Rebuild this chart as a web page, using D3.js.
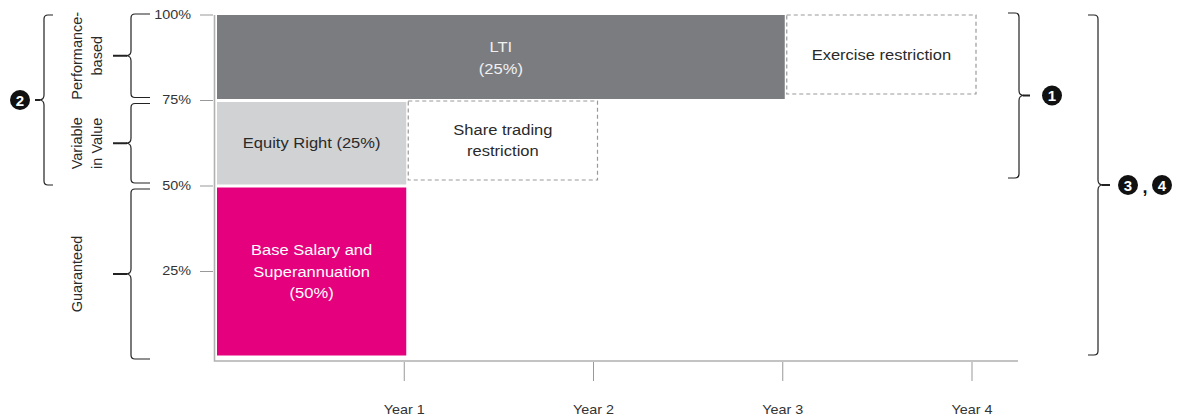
<!DOCTYPE html>
<html>
<head>
<meta charset="utf-8">
<script src="https://cdn.jsdelivr.net/npm/d3@7"></script>
<style>
  body { margin: 0; background: #fff; }
  svg { display: block; font-family: "Liberation Sans", Arial, sans-serif; }
</style>
</head>
<body>
<svg class="board" width="1177" height="419"></svg>
<script>
// pay components (share of total, vesting year)
var barLabels = [["Base Salary and", "Superannuation", "(50%)"], ["Equity Right (25%)"], ["LTI", "(25%)"]];
var barLow = [0, 0.5, 0.75];
var barHigh = [0.5, 0.75, 1];
var barYears = [1, 1, 3];
var barColors = ["#e5007e", "#d1d2d4", "#7b7c80"];
var barText = ["#ffffff", "#2a2a2a", "#f0f0f0"];

// restriction periods after vesting
var restrictLabels = [["Share trading", "restriction"], ["Exercise restriction"]];
var restrictFrom = [1, 3];
var restrictTo = [2, 4];
var restrictLow = [0.5, 0.75];
var restrictHigh = [0.75, 1];

var yTicks = [0.25, 0.5, 0.75, 1];
var xTicks = [1, 2, 3, 4];
var xTickLabels = ["Year 1", "Year 2", "Year 3", "Year 4"];

// left side groupings
var groupLabels = [["Guaranteed"], ["Variable", "in Value"], ["Performance-", "based"]];
var groupLow = [0, 0.5, 0.75];
var groupHigh = [0.5, 0.75, 1];

var board = d3.select('.board');
var x = d3.scaleLinear().domain([0, 4]).range([216, 973]);
var y = d3.scaleLinear().domain([0, 1]).range([357, 15]);

// text is a bit wider than the font: stretch it sideways
function label(parent, cx, cy, lines, size, fill, lineH, sx, anchor) {
  var t = parent.append('text')
    .attr('transform', 'translate(' + cx + ',' + cy + ') scale(' + sx + ',1)')
    .attr('text-anchor', anchor || 'middle')
    .attr('font-size', size).attr('fill', fill);
  t.selectAll('tspan').data(lines).enter().append('tspan')
    .attr('x', 0)
    .attr('y', (l, j) => size * 0.36 + (j - (lines.length - 1) / 2) * lineH)
    .text(l => l);
  return t;
}

// frame
board.append('path')
  .attr('d', 'M214.5,' + y(1) + 'V361H1018')
  .attr('fill', 'none').attr('stroke', '#b0b0b0').attr('stroke-width', 1.6);

// y ticks
var yt = board.append('g').selectAll('g').data(yTicks).enter().append('g');
yt.append('line')
  .attr('x1', 200).attr('x2', 213)
  .attr('y1', d => y(d)).attr('y2', d => y(d))
  .attr('stroke', '#999');
yt.each(function (d) {
  label(d3.select(this), 191, y(d) - 0.5, [d3.format('.0%')(d)], 12, '#333', 0, 1.2, 'end');
});

// x ticks
var xt = board.append('g').selectAll('g').data(xTicks).enter().append('g');
xt.append('line')
  .attr('x1', d => x(d) - 1).attr('x2', d => x(d) - 1)
  .attr('y1', 362).attr('y2', 381)
  .attr('stroke', '#999');
xt.each(function (d, i) {
  label(d3.select(this), x(d) - 1, 409.5, [xTickLabels[i]], 12.5, '#333', 0, 1.15);
});

// bars
var bars = board.append('g').selectAll('g').data(barLabels).enter().append('g');
bars.append('rect')
  .attr('x', x(0) + 1)
  .attr('y', (d, i) => y(barHigh[i]) + (barHigh[i] < 1 ? 1.5 : 0))
  .attr('width', (d, i) => x(barYears[i]) - x(0))
  .attr('height', (d, i) => y(barLow[i]) - y(barHigh[i]) - (barHigh[i] < 1 ? 3 : 1.5))
  .attr('fill', (d, i) => barColors[i]);
bars.each(function (lines, i) {
  var cx = (x(0) + x(barYears[i])) / 2 + 1;
  var cy = (y(barLow[i]) + y(barHigh[i])) / 2;
  label(d3.select(this), cx, cy, lines, 14.5, barText[i], 21.5, 1.14);
});

// restriction boxes
var boxes = board.append('g').selectAll('g').data(restrictLabels).enter().append('g');
boxes.append('rect')
  .attr('x', (d, i) => x(restrictFrom[i]) + 3)
  .attr('y', (d, i) => y(restrictHigh[i]) + (restrictHigh[i] < 1 ? 0.5 : 0))
  .attr('width', (d, i) => x(restrictTo[i]) - x(restrictFrom[i]))
  .attr('height', (d, i) => y(restrictLow[i]) - y(restrictHigh[i]) - 6.5)
  .attr('fill', 'none').attr('stroke', '#999').attr('stroke-width', 1.2)
  .attr('stroke-dasharray', '4,3');
boxes.each(function (lines, i) {
  var cx = (x(restrictFrom[i]) + x(restrictTo[i])) / 2 + 3;
  var cy = (y(restrictLow[i]) + y(restrictHigh[i])) / 2 - 2.5;
  label(d3.select(this), cx, cy, lines, 14.5, '#2a2a2a', 21, 1.14);
});

// curly brace: vertical at xv, dir = -1 points left, +1 points right
function brace(xv, y0, y1, dir, hook, tip) {
  var m = (y0 + y1) / 2;
  var g = board.append('g').attr('fill', 'none').attr('stroke', '#222');
  g.append('path')
    .attr('stroke-width', 1.2)
    .attr('d', 'M' + (xv - dir * hook) + ',' + y0 +
      'L' + (xv - dir * 4) + ',' + y0 +
      'Q' + xv + ',' + y0 + ' ' + xv + ',' + (y0 + 4) +
      'L' + xv + ',' + (m - 5) +
      'Q' + xv + ',' + m + ' ' + (xv + dir * 5) + ',' + m +
      'Q' + xv + ',' + m + ' ' + xv + ',' + (m + 5) +
      'L' + xv + ',' + (y1 - 4) +
      'Q' + xv + ',' + y1 + ' ' + (xv - dir * 4) + ',' + y1 +
      'L' + (xv - dir * hook) + ',' + y1);
  g.append('line')
    .attr('stroke-width', 2)
    .attr('x1', xv + dir * 4).attr('x2', xv + dir * tip)
    .attr('y1', m).attr('y2', m);
  return m;
}

function badge(cx, cy, txt) {
  board.append('circle').attr('cx', cx).attr('cy', cy).attr('r', 10).attr('fill', '#111');
  board.append('text')
    .attr('x', cx).attr('y', cy + 5.5)
    .attr('text-anchor', 'middle').attr('font-size', 15).attr('font-weight', 'bold')
    .attr('fill', '#fff').text(txt);
}

// left groupings
groupLabels.forEach(function (lines, i) {
  var top = y(groupHigh[i]) + (groupHigh[i] < 1 ? 3 : -1);
  var bot = y(groupLow[i]) - (groupLow[i] > 0 ? 3 : -2);
  var m = brace(131, top, bot, -1, 19, 18);
  var t = board.append('text')
    .attr('transform', 'translate(0,' + m + ') rotate(-90)')
    .attr('text-anchor', 'middle').attr('font-size', 14.5).attr('fill', '#2a2a2a');
  t.selectAll('tspan').data(lines).enter().append('tspan')
    .attr('x', 0)
    .attr('y', (l, j) => 82 + j * 20)
    .text(l => l);
});

var m2 = brace(44, y(1), y(0.5) - 1, -1, 9, 9);
badge(20, m2, '2');

// right groupings
var m1 = brace(1019, y(1) - 2, y(0.5) - 8, 1, 11, 11);
badge(1052, m1, '1');

var m34 = brace(1098, y(1), y(0) - 2, 1, 10, 12);
badge(1128, m34, '3');
board.append('text').attr('x', 1145).attr('y', m34 + 8)
  .attr('text-anchor', 'middle').attr('font-size', 18).attr('font-weight', 'bold')
  .attr('fill', '#111').text(',');
badge(1162, m34, '4');
</script>
</body>
</html>
